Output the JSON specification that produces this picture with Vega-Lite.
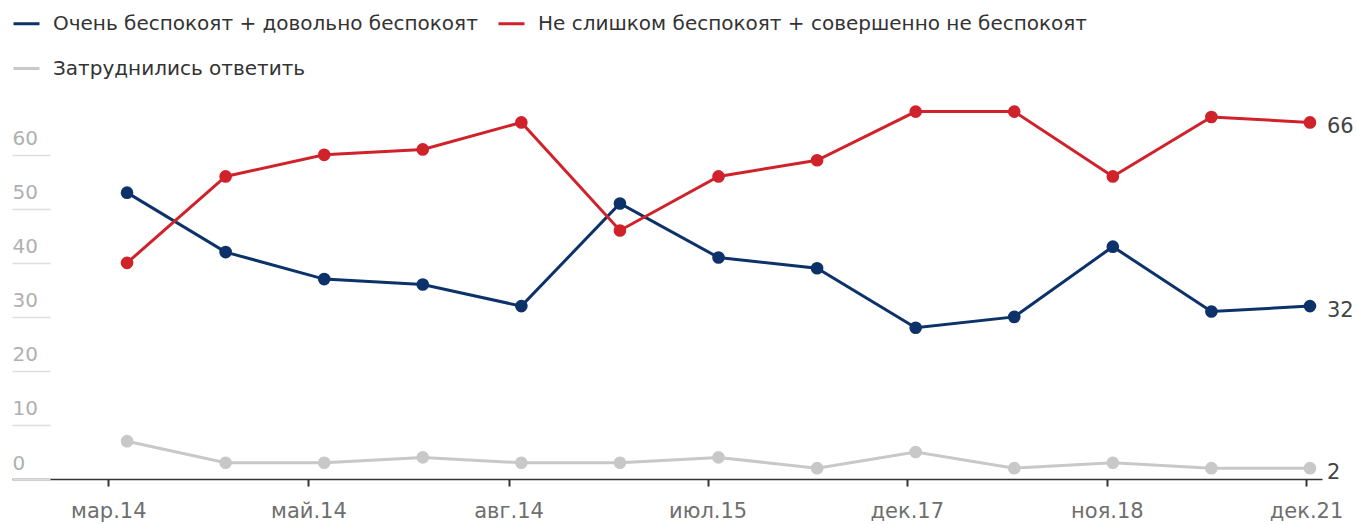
{
  "$schema": "https://vega.github.io/schema/vega-lite/v6.json",
  "width": 1310,
  "height": 389,
  "autosize": {"type": "none"},
  "padding": {"left": 12, "top": 90, "right": 35, "bottom": 46},
  "background": "white",
  "config": {"view": {"stroke": null}, "font": "DejaVu Sans"},
  "data": {"values": [
    {"n": 0, "series": "Очень беспокоят + довольно беспокоят", "value": 53},
    {"n": 1, "series": "Очень беспокоят + довольно беспокоят", "value": 42},
    {"n": 2, "series": "Очень беспокоят + довольно беспокоят", "value": 37},
    {"n": 3, "series": "Очень беспокоят + довольно беспокоят", "value": 36},
    {"n": 4, "series": "Очень беспокоят + довольно беспокоят", "value": 32},
    {"n": 5, "series": "Очень беспокоят + довольно беспокоят", "value": 51},
    {"n": 6, "series": "Очень беспокоят + довольно беспокоят", "value": 41},
    {"n": 7, "series": "Очень беспокоят + довольно беспокоят", "value": 39},
    {"n": 8, "series": "Очень беспокоят + довольно беспокоят", "value": 28},
    {"n": 9, "series": "Очень беспокоят + довольно беспокоят", "value": 30},
    {"n": 10, "series": "Очень беспокоят + довольно беспокоят", "value": 43},
    {"n": 11, "series": "Очень беспокоят + довольно беспокоят", "value": 31},
    {"n": 12, "series": "Очень беспокоят + довольно беспокоят", "value": 32},
    {"n": 0, "series": "Не слишком беспокоят + совершенно не беспокоят", "value": 40},
    {"n": 1, "series": "Не слишком беспокоят + совершенно не беспокоят", "value": 56},
    {"n": 2, "series": "Не слишком беспокоят + совершенно не беспокоят", "value": 60},
    {"n": 3, "series": "Не слишком беспокоят + совершенно не беспокоят", "value": 61},
    {"n": 4, "series": "Не слишком беспокоят + совершенно не беспокоят", "value": 66},
    {"n": 5, "series": "Не слишком беспокоят + совершенно не беспокоят", "value": 46},
    {"n": 6, "series": "Не слишком беспокоят + совершенно не беспокоят", "value": 56},
    {"n": 7, "series": "Не слишком беспокоят + совершенно не беспокоят", "value": 59},
    {"n": 8, "series": "Не слишком беспокоят + совершенно не беспокоят", "value": 68},
    {"n": 9, "series": "Не слишком беспокоят + совершенно не беспокоят", "value": 68},
    {"n": 10, "series": "Не слишком беспокоят + совершенно не беспокоят", "value": 56},
    {"n": 11, "series": "Не слишком беспокоят + совершенно не беспокоят", "value": 67},
    {"n": 12, "series": "Не слишком беспокоят + совершенно не беспокоят", "value": 66},
    {"n": 0, "series": "Затруднились ответить", "value": 7},
    {"n": 1, "series": "Затруднились ответить", "value": 3},
    {"n": 2, "series": "Затруднились ответить", "value": 3},
    {"n": 3, "series": "Затруднились ответить", "value": 4},
    {"n": 4, "series": "Затруднились ответить", "value": 3},
    {"n": 5, "series": "Затруднились ответить", "value": 3},
    {"n": 6, "series": "Затруднились ответить", "value": 4},
    {"n": 7, "series": "Затруднились ответить", "value": 2},
    {"n": 8, "series": "Затруднились ответить", "value": 5},
    {"n": 9, "series": "Затруднились ответить", "value": 2},
    {"n": 10, "series": "Затруднились ответить", "value": 3},
    {"n": 11, "series": "Затруднились ответить", "value": 2},
    {"n": 12, "series": "Затруднились ответить", "value": 2}
  ]},
  "encoding": {
    "x": {
      "field": "n", "type": "quantitative",
      "scale": {"domain": [-1.167, 12.122], "nice": false, "zero": false},
      "axis": {
        "title": null,
        "values": [-0.19, 1.84, 3.87, 5.89, 7.91, 9.94, 11.96],
        "labelExpr": "['мар.14','май.14','авг.14','июл.15','дек.17','ноя.18','дек.21'][round(datum.value/2)]",
        "grid": false,
        "domainColor": "#333333",
        "domainWidth": 1.5,
        "tickColor": "#333333",
        "tickWidth": 2,
        "tickSize": 7,
        "labelColor": "#6e6e6e",
        "labelFontSize": 21,
        "labelPadding": 14,
        "labelFlush": false,
        "labelOverlap": false
      }
    },
    "y": {
      "field": "value", "type": "quantitative",
      "scale": {"domain": [0, 72], "nice": false},
      "axis": {
        "title": null,
        "values": [0, 10, 20, 30, 40, 50, 60],
        "grid": false,
        "domain": false,
        "tickSize": -38,
        "tickColor": "#dddddd",
        "tickWidth": 1.5,
        "labelAlign": "left",
        "labelBaseline": "alphabetic",
        "labelOffset": -10,
        "labelPadding": 38,
        "labelColor": "#b0b0b0",
        "labelFontSize": 20
      }
    },
    "color": {
      "field": "series", "type": "nominal",
      "scale": {
        "domain": ["Очень беспокоят + довольно беспокоят", "Не слишком беспокоят + совершенно не беспокоят", "Затруднились ответить"],
        "range": ["#0c3269", "#d0222b", "#c8c8c8"]
      },
      "legend": {
        "title": null,
        "orient": "none",
        "legendX": 0,
        "legendY": -81,
        "columns": 2,
        "direction": "horizontal",
        "symbolType": "stroke",
        "symbolSize": 676,
        "symbolStrokeWidth": 3,
        "labelFont": "DejaVu Sans",
        "labelFontSize": 20,
        "labelColor": "#333333",
        "labelOffset": 12,
        "labelLimit": 700,
        "columnPadding": 14,
        "rowPadding": 20,
        "padding": 0
      }
    }
  },
  "layer": [
    {"mark": {"type": "line", "strokeWidth": 3}},
    {"mark": {"type": "point", "filled": true, "size": 160, "opacity": 1}},
    {
      "transform": [{"filter": "datum.n == 12"}],
      "mark": {"type": "text", "align": "left", "baseline": "middle", "dx": 17, "dy": 5, "fontSize": 21, "color": "#444444"},
      "encoding": {"text": {"field": "value", "type": "quantitative"}, "color": {"value": "#444444"}}
    }
  ]
}
